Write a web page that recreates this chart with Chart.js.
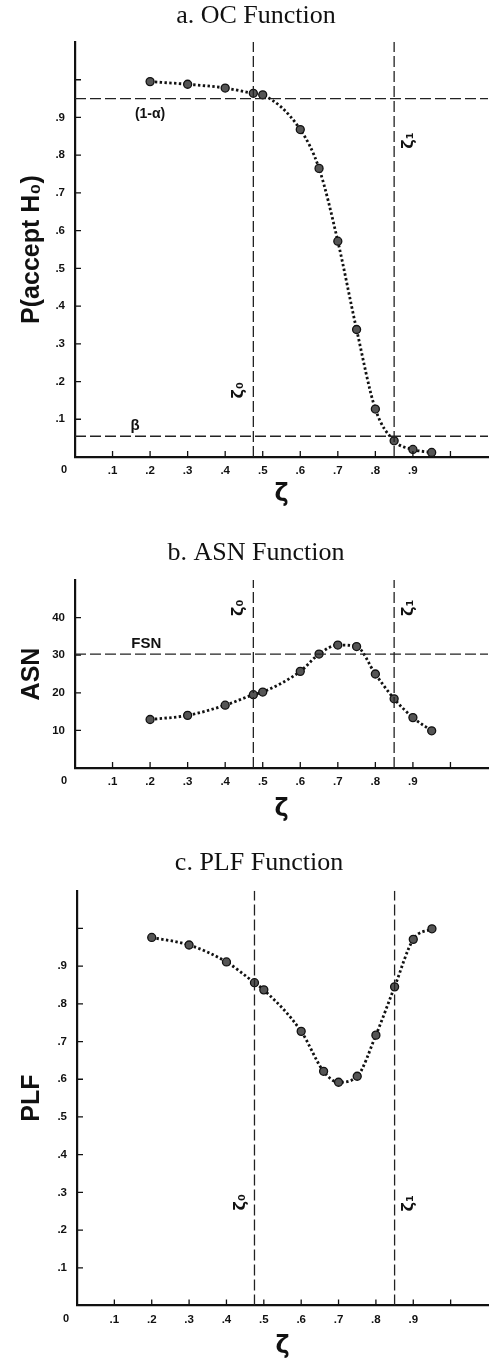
<!DOCTYPE html>
<html>
<head>
<meta charset="utf-8">
<script src="https://cdn.jsdelivr.net/npm/chart.js@4.4.1/dist/chart.umd.min.js"></script>
<style>
  body { margin: 0; background: #fff; }
  .box { position: absolute; left: 0; width: 495px; }
</style>
</head>
<body>
<div class="box" style="top:0px;height:515px"><canvas id="ocChart"></canvas></div>
<div class="box" style="top:515px;height:315px"><canvas id="asnChart"></canvas></div>
<div class="box" style="top:830px;height:532px"><canvas id="plfChart"></canvas></div>
<script>
// values
const zeta = [0.2, 0.3, 0.4, 0.475, 0.5, 0.6, 0.65, 0.7, 0.75, 0.8, 0.85, 0.9, 0.95];
const pAccept = [0.995, 0.988, 0.978, 0.964, 0.960, 0.868, 0.765, 0.572, 0.338, 0.127, 0.043, 0.020, 0.012];
const asn = [12.9, 14.0, 16.7, 19.5, 20.2, 25.7, 30.3, 32.7, 32.3, 25.0, 18.4, 13.4, 9.9];
const zetaPlf = [0.2, 0.3, 0.4, 0.475, 0.5, 0.6, 0.66, 0.7, 0.75, 0.8, 0.85, 0.9, 0.95];
const plf = [0.976, 0.956, 0.911, 0.856, 0.837, 0.727, 0.621, 0.592, 0.608, 0.717, 0.845, 0.971, 0.999];

const zeta0 = 0.475;
const zeta1 = 0.85;
const oneMinusAlpha = 0.95;
const beta = 0.055;
const fsn = 30.3;

const sans = "'Liberation Sans', Arial, sans-serif";
const serif = "'Liberation Serif', 'Times New Roman', serif";

function pts(xs, ys) {
  return xs.map((x, i) => ({x: x, y: ys[i]}));
}

function curve(xs, ys) {
  return {
    data: pts(xs, ys),
    borderColor: '#111',
    borderWidth: 2.8,
    borderDash: [2.4, 2.4],
    cubicInterpolationMode: 'monotone',
    pointRadius: 4,
    pointBackgroundColor: '#555',
    pointBorderColor: '#111',
    pointBorderWidth: 1.3
  };
}

function refLine(a, b) {
  return {
    data: [a, b],
    borderColor: '#222',
    borderWidth: 1.3,
    borderDash: [11, 4],
    pointRadius: 0,
    tension: 0
  };
}

// short tick marks pointing into the plot, the "0" at the origin and the text notes
const innerTicks = {
  id: 'innerTicks',
  afterDraw(chart, args, opts) {
    const {ctx, chartArea: area, scales: {x, y}} = chart;
    ctx.save();
    ctx.strokeStyle = '#111';
    ctx.lineWidth = 1.3;
    ctx.beginPath();
    x.ticks.forEach(t => {
      if (t.value > 0.01 && t.value <= opts.xMax + 1e-6) {
        const px = x.getPixelForValue(t.value);
        ctx.moveTo(px, area.bottom);
        ctx.lineTo(px, area.bottom - 6);
      }
    });
    y.ticks.forEach(t => {
      if (t.value > 1e-6 && t.value <= opts.yMax + 1e-6) {
        const py = y.getPixelForValue(t.value);
        ctx.moveTo(area.left, py);
        ctx.lineTo(area.left + 6, py);
      }
    });
    ctx.stroke();

    ctx.fillStyle = '#111';
    ctx.textAlign = 'center';
    ctx.textBaseline = 'middle';
    ctx.font = 'bold 11px ' + sans;
    ctx.fillText('0', x.getPixelForValue(0) - 11, area.bottom + 13);

    (opts.notes || []).forEach(n => {
      ctx.save();
      ctx.translate(x.getPixelForValue(n.x), y.getPixelForValue(n.y));
      if (n.rot) ctx.rotate(n.rot);
      ctx.font = n.font;
      ctx.fillText(n.text, 0, 0);
      ctx.restore();
    });
    ctx.restore();
  }
};

function makeChart(id, cfg) {
  return new Chart(document.getElementById(id), {
    type: 'line',
    data: {datasets: cfg.datasets},
    options: {
      responsive: true,
      maintainAspectRatio: false,
      animation: false,
      devicePixelRatio: 1,
      layout: {padding: cfg.padding},
      plugins: {
        legend: {display: false},
        tooltip: {enabled: false},
        title: {
          display: true,
          text: cfg.title,
          color: '#111',
          font: {family: serif, size: 26, weight: 'normal'},
          padding: cfg.titlePad
        },
        innerTicks: cfg.ticks
      },
      scales: {
        x: {
          type: 'linear',
          min: 0,
          max: 1.1,
          afterFit: s => { s.height = cfg.xHeight; },
          grid: {drawOnChartArea: false, drawTicks: false},
          border: {display: true, color: '#111', width: 2.2},
          ticks: {
            stepSize: 0.1,
            padding: 7,
            color: '#111',
            font: {family: sans, size: 11.5, weight: 'bold'},
            maxRotation: 0,
            autoSkip: false,
            callback: v => (v > 0.05 && v < 0.95) ? '.' + Math.round(v * 10) : ''
          },
          title: {
            display: true,
            text: 'ζ',
            color: '#111',
            font: {family: "'DejaVu Sans', sans-serif", size: 24, weight: 'bold'},
            padding: {top: 0, bottom: cfg.xTitlePad}
          }
        },
        y: {
          type: 'linear',
          min: 0,
          max: cfg.yMax,
          afterFit: s => { s.width = cfg.yWidth; },
          grid: {drawOnChartArea: false, drawTicks: false},
          border: {display: true, color: '#111', width: 2.2},
          ticks: {
            stepSize: cfg.yStep,
            padding: 10,
            color: '#111',
            font: {family: sans, size: 11.5, weight: 'bold'},
            autoSkip: false,
            callback: cfg.yLabel
          },
          title: {
            display: true,
            text: cfg.yTitle,
            color: '#111',
            font: {family: sans, size: 25, weight: 'bold'},
            padding: {top: cfg.yTitlePad, bottom: 0}
          }
        }
      }
    },
    plugins: [innerTicks]
  });
}

const zetaFont = 'bold 16px ' + "'DejaVu Sans', sans-serif";
const labelFont = 'bold 14px ' + sans;

makeChart('ocChart', {
  title: 'a. OC Function',
  titlePad: {top: 1, bottom: 9.8},
  padding: {left: 22, right: 5, top: 0, bottom: 0},
  xHeight: 58, xTitlePad: 5.6, yWidth: 53, yTitlePad: -5,
  yMax: 1.1, yStep: 0.1,
  yLabel: v => (v > 0.05 && v < 0.95) ? '.' + Math.round(v * 10) : '',
  yTitle: 'P(accept H₀)',
  datasets: [
    refLine({x: 0, y: oneMinusAlpha}, {x: 1.1, y: oneMinusAlpha}),
    refLine({x: 0, y: beta}, {x: 1.1, y: beta}),
    refLine({x: zeta0, y: 0}, {x: zeta0, y: 1.1}),
    refLine({x: zeta1, y: 0}, {x: zeta1, y: 1.1}),
    curve(zeta, pAccept)
  ],
  ticks: {
    xMax: 1.0, yMax: 1.0,
    notes: [
      {text: '(1-α)', x: 0.2, y: 0.91, font: labelFont},
      {text: 'β', x: 0.16, y: 0.082, font: 'bold 15px ' + sans},
      {text: 'ζ₀', x: 0.437, y: 0.177, rot: -Math.PI / 2, font: zetaFont},
      {text: 'ζ₁', x: 0.889, y: 0.839, rot: -Math.PI / 2, font: zetaFont}
    ]
  }
});

makeChart('asnChart', {
  title: 'b. ASN Function',
  titlePad: {top: 22.4, bottom: 11.4},
  padding: {left: 22, right: 5, top: 0, bottom: 0},
  xHeight: 62, xTitlePad: 5.6, yWidth: 53, yTitlePad: -5,
  yMax: 50, yStep: 10,
  yLabel: v => (v > 0 && v < 50) ? String(v) : '',
  yTitle: 'ASN',
  datasets: [
    refLine({x: 0, y: fsn}, {x: 1.1, y: fsn}),
    refLine({x: zeta0, y: 0}, {x: zeta0, y: 50}),
    refLine({x: zeta1, y: 0}, {x: zeta1, y: 50}),
    curve(zeta, asn)
  ],
  ticks: {
    xMax: 1.0, yMax: 40,
    notes: [
      {text: 'FSN', x: 0.19, y: 33.1, font: 'bold 15px ' + sans},
      {text: 'ζ₀', x: 0.437, y: 42.6, rot: -Math.PI / 2, font: zetaFont},
      {text: 'ζ₁', x: 0.889, y: 42.6, rot: -Math.PI / 2, font: zetaFont}
    ]
  }
});

makeChart('plfChart', {
  title: 'c. PLF Function',
  titlePad: {top: 17.1, bottom: 12.4},
  padding: {left: 24, right: 1, top: 0, bottom: 0},
  xHeight: 56.5, xTitlePad: 0.9, yWidth: 53, yTitlePad: -7,
  yMax: 1.1, yStep: 0.1,
  yLabel: v => (v > 0.05 && v < 0.95) ? '.' + Math.round(v * 10) : '',
  yTitle: 'PLF',
  datasets: [
    refLine({x: zeta0, y: 0}, {x: zeta0, y: 1.1}),
    refLine({x: zeta1, y: 0}, {x: zeta1, y: 1.1}),
    curve(zetaPlf, plf)
  ],
  ticks: {
    xMax: 1.0, yMax: 1.0,
    notes: [
      {text: 'ζ₀', x: 0.438, y: 0.274, rot: -Math.PI / 2, font: zetaFont},
      {text: 'ζ₁', x: 0.887, y: 0.271, rot: -Math.PI / 2, font: zetaFont}
    ]
  }
});
</script>
</body>
</html>
